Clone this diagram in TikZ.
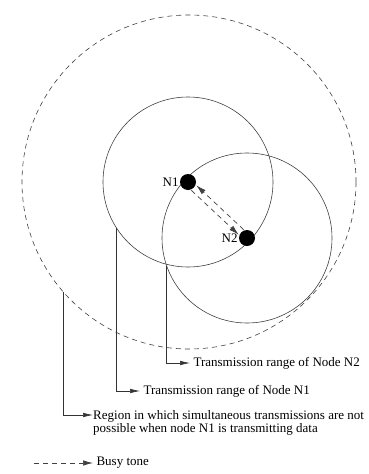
\documentclass[tikz,border=0pt]{standalone}
\usepackage{fontspec}
\setmainfont{Liberation Serif}
\usetikzlibrary{arrows.meta}

\begin{document}
\begin{tikzpicture}[x=1pt, y=-1pt,
    every node/.style={font=\fontsize{13}{13.5}\selectfont},
    txrange/.style={circle, draw=black!75, line width=0.6pt, inner sep=0pt, outer sep=0pt},
    station/.style={circle, fill=black, minimum size=16pt, inner sep=0pt},
    pointer/.style={draw=black!80, line width=0.6pt, -{Latex[length=10pt,width=4.5pt]}},
    tone/.style={draw=black!75, line width=0.7pt, dash pattern=on 5pt off 4pt, -{Latex[length=10pt,width=5.5pt]}}
    ]
    \useasboundingbox (0,0) rectangle (368,474);
    % ranges
    \node[txrange, minimum size=334pt, dash pattern=on 5pt off 4pt] (busy) at (189,182) {};
    \node[txrange, minimum size=170pt] (rangeA) at (188,182) {};
    \node[txrange, minimum size=170pt] (rangeB) at (247,238) {};
    % the two nodes
    \node[station] (nA) at (188,182) {};
    \node[station] (nB) at (247,238) {};
    \node[anchor=east, inner sep=1pt] at (nA.west) {N1};
    \node[anchor=east, inner sep=1pt] at (nB.west) {N2};
    \draw[tone] ([shift={(2.5,-2.5)}]nB.north west) -- ([shift={(2.5,-2.5)}]nA.south east);
    \draw[tone] ([shift={(-2.5,2.5)}]nA.south east) -- ([shift={(-2.5,2.5)}]nB.north west);
    % labels
    \node[anchor=west] (labelB) at (190,363) {Transmission range of Node N2};
    \node[anchor=west] (labelA) at (140,391) {Transmission range of Node N1};
    \node[anchor=north west, align=left, inner sep=0pt] (labelR) at (93,410)
      {Region in which simultaneous transmissions are not\\possible when node N1 is transmitting data};
    \node[anchor=west] (labelT) at (93,463) {Busy tone};
    \coordinate (toneStart) at (34,463);
    \draw[pointer] (rangeB.199.7) |- (labelB.west);
    \draw[pointer] (rangeA.213.3) |- (labelA.west);
    \draw[pointer] (busy.221) |- ([yshift=-5pt]labelR.north west);
    \draw[tone] (toneStart) -- (labelT.west);
\end{tikzpicture}
\end{document}
